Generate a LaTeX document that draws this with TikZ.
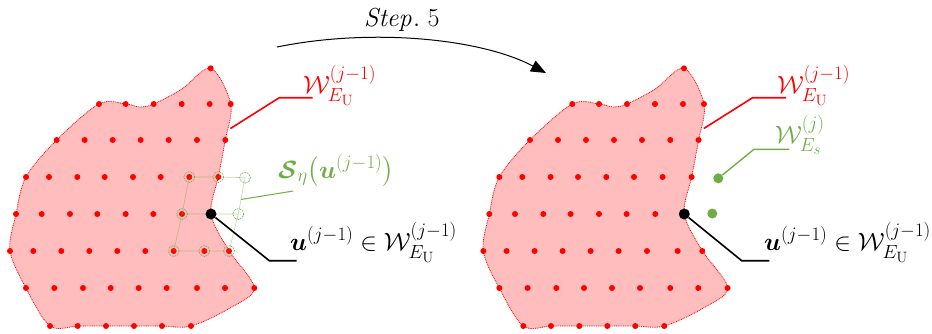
\RequirePackage{fix-cm}
\documentclass[tikz,border=0pt]{standalone}
\usepackage{amsmath,amssymb,bm}
\usetikzlibrary{arrows.meta,calc}
\DeclareMathSizes{25}{25}{19}{15}
\DeclareMathSizes{26}{26}{19}{15}
\definecolor{blobfill}{HTML}{FFBDBD}
\definecolor{reddot}{HTML}{FF0000}
\definecolor{ggreen}{HTML}{70AD47}
\tikzset{
  rdot/.style={circle,fill=reddot,inner sep=0pt,minimum size=6pt},
  bdot/.style={circle,fill=black,inner sep=0pt,minimum size=11pt},
  gdot/.style={circle,fill=ggreen,inner sep=0pt,minimum size=10pt},
  gcirc/.style={circle,draw=ggreen,dash pattern=on 0.9pt off 0.9pt,line width=0.7pt,inner sep=0pt,minimum size=11pt},
  gridline/.style={draw=ggreen,draw opacity=0.45,line width=0.6pt},
  blobline/.style={draw=reddot,dash pattern=on 0.9pt off 0.9pt,line width=0.8pt,fill=blobfill},
  lbl/.style={inner sep=0pt,anchor=base west,font=\fontsize{25}{29}\selectfont},
  redlead/.style={draw=reddot,line width=1.6pt},
  greenlead/.style={draw=ggreen,line width=1.4pt},
  blacklead/.style={draw=black,line width=1.6pt},
  blob/.pic={
    \path[blobline] plot[smooth cycle,tension=0.55] coordinates {
      (210.7,68.3) (230.7,104) (225.3,140) (218.3,177) (211,214) (229,250.7)
      (254.3,288) (230,308) (191,326) (162,326) (134,326) (106,326) (77.7,326)
      (50,326) (26,288) (10,250.7) (16,214) (26,177) (56.7,140) (99,104)
      (125.7,104) (140,107) (153.7,104) (182,89)};
    \coordinate (-edge) at (230.5,128.5);
    \node[rdot] at (210.7,68.3) {};
    \foreach \x in {99,125.7,153.7,181.7,209.7,230.7} \node[rdot] at (\x,104) {};
    \foreach \x in {56.7,84.7,112.7,140.7,168.7,197,225.3} \node[rdot] at (\x,140) {};
    \foreach \x in {26,49,77.3,104.7,133,160.7,189.3,218.3} \node[rdot] at (\x,177) {};
    \foreach \x in {16,41.7,70,97.3,125.7,153.3,182} \node[rdot] at (\x,214) {};
    \foreach \x in {10,33.3,61.3,89.3,117.3,145.3,173.7,204.3,229} \node[rdot] at (\x,251) {};
    \foreach \x in {26,54.3,83,110.7,138.7,166.7,197,225,254.3} \node[rdot] at (\x,288) {};
    \foreach \x in {50,77.7,106,134,162,191} \node[rdot] at (\x,326) {};
  }
}
\begin{document}
\begin{tikzpicture}[x=1pt,y=-1pt]
\useasboundingbox (0,0) rectangle (932,333);

% arrow
\node[lbl,font=\fontsize{26}{30}\selectfont] (steplbl) at (364,26.7) {$\mathit{Step}.\;5$};
\coordinate (arrS) at (277,47);
\coordinate (arrE) at (546,73);
\draw[line width=1pt,-{Triangle[length=15pt,width=12pt]}] (arrS) .. controls (370,28) and (480,38) .. (arrE);

% ---------- left ----------
\pic (L) at (0,0) {blob};
\coordinate (a1) at (189.3,177); \coordinate (a2) at (218.3,177); \coordinate (a3) at (245,177.7);
\coordinate (b1) at (182,214);   \coordinate (b2) at (211,214);   \coordinate (b3) at (238.3,214);
\coordinate (c1) at (173.7,251); \coordinate (c2) at (204.3,251); \coordinate (c3) at (229,251);
\path[gridline] (a1) -- (a2) -- (a3) (b1) -- (b2) -- (b3) (c1) -- (c2) -- (c3)
  (a1) -- (b1) -- (c1) (a3) -- (b3) -- (c3);
\foreach \p in {a1,a2,a3,b1,b3,c1,c2,c3} \node[gcirc] at (\p) {};
\node[bdot] (Lu) at (211,214) {};

\coordinate (Lr1) at (279.3,97.7); \coordinate (Lr2) at (312.7,97.7);
\draw[redlead] (L-edge) -- (Lr1) -- (Lr2);
\node[lbl,text=reddot] (LW) at (303,93) {$\mathcal{W}^{(j-1)}_{E_{\mathrm{U}}}$};

\coordinate (Lg0) at ($(a3)!0.6!(b3)$); \coordinate (Lg1) at (293.3,191);
\draw[greenlead,line width=1pt] (Lg0) -- (Lg1);
\node[lbl,text=ggreen] (LS) at (278,178) {$\bm{\mathcal{S}}_{\eta}\bigl(\bm{u}^{(j-1)}\bigr)$};

\coordinate (Lb1) at (269.3,260.7); \coordinate (Lb2) at (296.7,260.7);
\draw[blacklead] (Lu) -- (Lb1) -- (Lb2);
\node[lbl] (Lt) at (290,250) {$\bm{u}^{(j-1)}\in\mathcal{W}^{(j-1)}_{E_{\mathrm{U}}}$};

% ---------- right ----------
\pic (R) at (473.3,0) {blob};
\node[gdot] (G1) at (718.3,178.3) {};
\node[gdot] (G2) at (712.3,213.5) {};
\node[bdot] (Ru) at (684.3,214) {};

\coordinate (Rr1) at (752.6,97.7); \coordinate (Rr2) at (786,97.7);
\draw[redlead] (R-edge) -- (Rr1) -- (Rr2);
\node[lbl,text=reddot] (RW) at (777,93) {$\mathcal{W}^{(j-1)}_{E_{\mathrm{U}}}$};

\coordinate (Rg1) at (754,149.3); \coordinate (Rg2) at (789.3,149.3);
\draw[greenlead] (G1) -- (Rg1) -- (Rg2);
\node[lbl,text=ggreen] (RWs) at (775,143) {$\mathcal{W}^{(j)}_{E_s}$};

\coordinate (Rb1) at (741.7,260.7); \coordinate (Rb2) at (769.3,260.7);
\draw[blacklead] (Ru) -- (Rb1) -- (Rb2);
\node[lbl] (Rt) at (764,250) {$\bm{u}^{(j-1)}\in\mathcal{W}^{(j-1)}_{E_{\mathrm{U}}}$};
\end{tikzpicture}
\end{document}
